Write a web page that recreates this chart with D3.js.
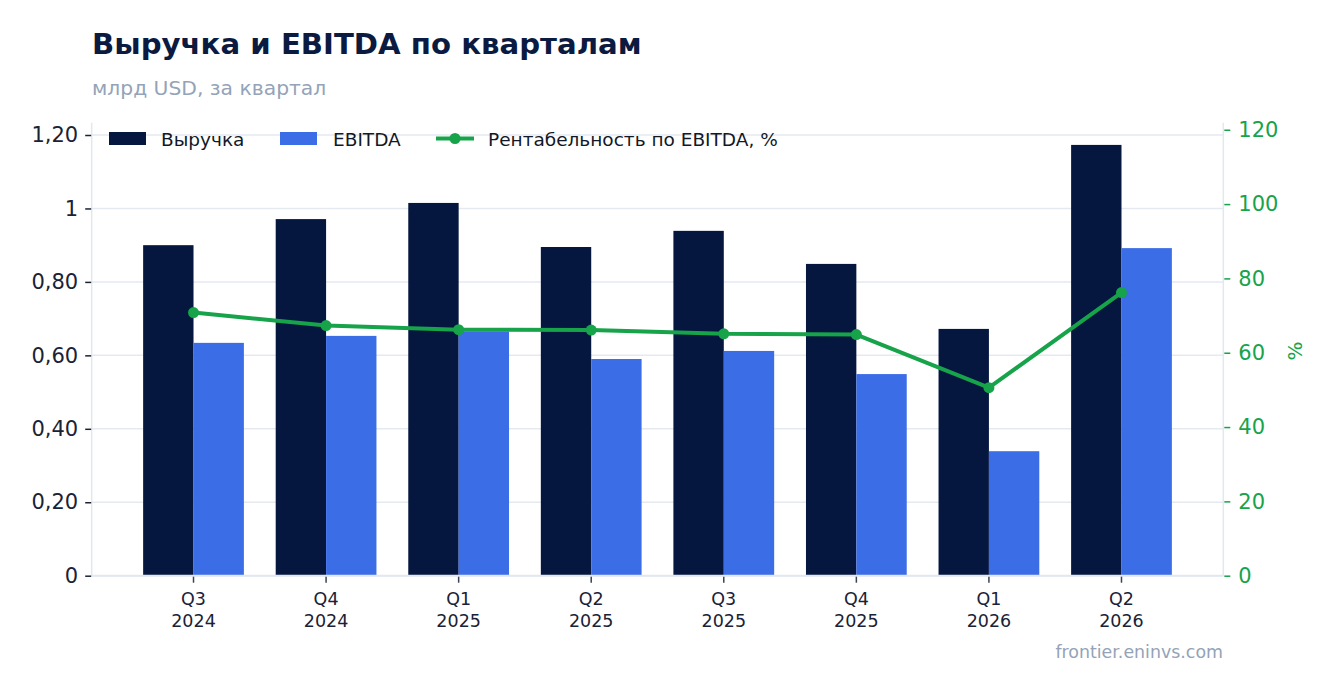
<!DOCTYPE html>
<html>
<head>
<meta charset="utf-8">
<script src="https://cdn.jsdelivr.net/npm/d3@7"></script>
<style>
  html, body { margin: 0; padding: 0; background: #ffffff; }
  svg { display: block; font-family: "DejaVu Sans", sans-serif; }
</style>
</head>
<body>
<svg id="chart" width="1336" height="693"></svg>
<script>
// ---- data ----
const quarters = ["Q3", "Q4", "Q1", "Q2", "Q3", "Q4", "Q1", "Q2"];
const years = ["2024", "2024", "2025", "2025", "2025", "2025", "2026", "2026"];
const revenue = [0.90, 0.971, 1.015, 0.895, 0.939, 0.849, 0.672, 1.173];
const ebitda = [0.634, 0.653, 0.665, 0.590, 0.612, 0.549, 0.339, 0.892];
const margin = [70.8, 67.3, 66.2, 66.1, 65.1, 64.9, 50.6, 76.2];
const leftTicks = [0, 0.2, 0.4, 0.6, 0.8, 1.0, 1.2];
const leftTickLabels = ["0", "0,20", "0,40", "0,60", "0,80", "1", "1,20"];
const rightTicks = [0, 20, 40, 60, 80, 100, 120];
const rightTickLabels = ["0", "20", "40", "60", "80", "100", "120"];
const seriesNames = ["Выручка", "EBITDA", "Рентабельность по EBITDA, %"];

const categories = quarters.map((q, i) => q + " " + years[i]);

// ---- styles ----
const C = {
  navy: "#05163f",
  blue: "#3b6de6",
  green: "#16a34a",
  grid: "#e5e9f0",
  axis: "#e2e8f0",
  tickText: "#1a2236",
  title: "#0b1a40",
  sub: "#94a3b8"
};

const svg = d3.select("#chart");
const plot = { left: 91.7, right: 1223.3, top: 122.7, bottom: 575.7 };

const x = d3.scaleBand().domain(categories)
  .range([plot.left, plot.right]).paddingInner(0.24).paddingOuter(0.388);
const xs = d3.scaleBand().domain(["rev", "ebitda"]).range([0, x.bandwidth()]);
const yL = d3.scaleLinear().domain([0, 1.2335]).range([plot.bottom, plot.top]);
const yR = d3.scaleLinear().domain([0, 121.9]).range([plot.bottom, plot.top]);

// title
svg.append("text").attr("x", 92).attr("y", 53.5)
  .attr("font-size", 29.2).attr("font-weight", "bold").attr("fill", C.title)
  .text("Выручка и EBITDA по кварталам");
svg.append("text").attr("x", 92).attr("y", 94.5)
  .attr("font-size", 20.3).attr("fill", C.sub)
  .text("млрд USD, за квартал");

// gridlines
svg.append("g").selectAll("line").data(leftTicks).join("line")
  .attr("x1", plot.left).attr("x2", plot.right)
  .attr("y1", d => yL(d)).attr("y2", d => yL(d))
  .attr("stroke", C.grid).attr("stroke-width", 1.5);

// axis frame lines
svg.append("line").attr("x1", plot.left).attr("x2", plot.left)
  .attr("y1", plot.top).attr("y2", plot.bottom).attr("stroke", C.axis).attr("stroke-width", 1.5);
svg.append("line").attr("x1", plot.right).attr("x2", plot.right)
  .attr("y1", plot.top).attr("y2", plot.bottom).attr("stroke", C.axis).attr("stroke-width", 1.5);

// bars
const gBars = svg.append("g");
gBars.selectAll("rect.rev").data(revenue).join("rect").attr("class", "rev")
  .attr("x", (d, i) => x(categories[i]) + xs("rev"))
  .attr("width", xs.bandwidth())
  .attr("y", d => yL(d)).attr("height", d => yL(0) - yL(d))
  .attr("fill", C.navy);
gBars.selectAll("rect.eb").data(ebitda).join("rect").attr("class", "eb")
  .attr("x", (d, i) => x(categories[i]) + xs("ebitda"))
  .attr("width", xs.bandwidth())
  .attr("y", d => yL(d)).attr("height", d => yL(0) - yL(d))
  .attr("fill", C.blue);

// bottom axis line
svg.append("line").attr("x1", plot.left).attr("x2", plot.right)
  .attr("y1", plot.bottom).attr("y2", plot.bottom).attr("stroke", C.axis).attr("stroke-width", 2);

// left axis
const axL = d3.axisLeft(yL).tickValues(leftTicks).tickFormat((d, i) => leftTickLabels[i])
  .tickSize(6).tickPadding(7);
const gL = svg.append("g").attr("transform", `translate(${plot.left - 0.5},0)`).call(axL);
gL.select(".domain").remove();
gL.selectAll(".tick line").attr("stroke", C.tickText).attr("stroke-width", 1.5);
gL.selectAll(".tick text").attr("font-size", 21).attr("fill", C.tickText)
  .attr("font-family", "DejaVu Sans, sans-serif");

// right axis
const axR = d3.axisRight(yR).tickValues(rightTicks).tickFormat((d, i) => rightTickLabels[i])
  .tickSize(6).tickPadding(8);
const gR = svg.append("g").attr("transform", `translate(${plot.right + 1},0)`).call(axR);
gR.select(".domain").remove();
gR.selectAll(".tick line").attr("stroke", C.green).attr("stroke-width", 1.5);
gR.selectAll(".tick text").attr("font-size", 21).attr("fill", C.green)
  .attr("font-family", "DejaVu Sans, sans-serif");

svg.append("text")
  .attr("transform", `translate(1302,351) rotate(-90)`)
  .attr("text-anchor", "middle").attr("font-size", 20).attr("fill", C.green)
  .text("%");

// bottom axis ticks and labels
const center = c => x(c) + x.bandwidth() / 2;
const gX = svg.append("g");
gX.selectAll("line").data(categories).join("line")
  .attr("x1", d => center(d)).attr("x2", d => center(d))
  .attr("y1", plot.bottom + 1).attr("y2", plot.bottom + 7)
  .attr("stroke", "#3a4254").attr("stroke-width", 1.5);
const xl = gX.selectAll("text").data(categories).join("text")
  .attr("x", d => center(d)).attr("text-anchor", "middle")
  .attr("font-size", 17.5).attr("fill", C.tickText);
xl.append("tspan").attr("x", d => center(d)).attr("y", 605).text((d, i) => quarters[i]);
xl.append("tspan").attr("x", d => center(d)).attr("y", 626.5).text((d, i) => years[i]);

// margin line
const line = d3.line().x((d, i) => center(categories[i])).y(d => yR(d));
svg.append("path").datum(margin).attr("d", line)
  .attr("fill", "none").attr("stroke", C.green).attr("stroke-width", 4)
  .attr("stroke-linejoin", "round");
svg.append("g").selectAll("circle").data(margin).join("circle")
  .attr("cx", (d, i) => center(categories[i])).attr("cy", d => yR(d))
  .attr("r", 5.5).attr("fill", C.green);

// legend
const lg = svg.append("g").attr("font-size", 18.5).attr("fill", "#111827");
lg.append("rect").attr("x", 109).attr("y", 132).attr("width", 37).attr("height", 13).attr("fill", C.navy);
lg.append("text").attr("x", 161).attr("y", 145.5).text(seriesNames[0]);
lg.append("rect").attr("x", 280).attr("y", 132).attr("width", 37).attr("height", 13).attr("fill", C.blue);
lg.append("text").attr("x", 333).attr("y", 145.5).text(seriesNames[1]);
lg.append("line").attr("x1", 436).attr("x2", 474).attr("y1", 138.5).attr("y2", 138.5)
  .attr("stroke", C.green).attr("stroke-width", 4);
lg.append("circle").attr("cx", 455).attr("cy", 138.5).attr("r", 5.5).attr("fill", C.green);
lg.append("text").attr("x", 488).attr("y", 145.5).text(seriesNames[2]);

// footer
svg.append("text").attr("x", 1223).attr("y", 658).attr("text-anchor", "end")
  .attr("font-size", 17.4).attr("fill", C.sub).text("frontier.eninvs.com");
</script>
</body>
</html>
